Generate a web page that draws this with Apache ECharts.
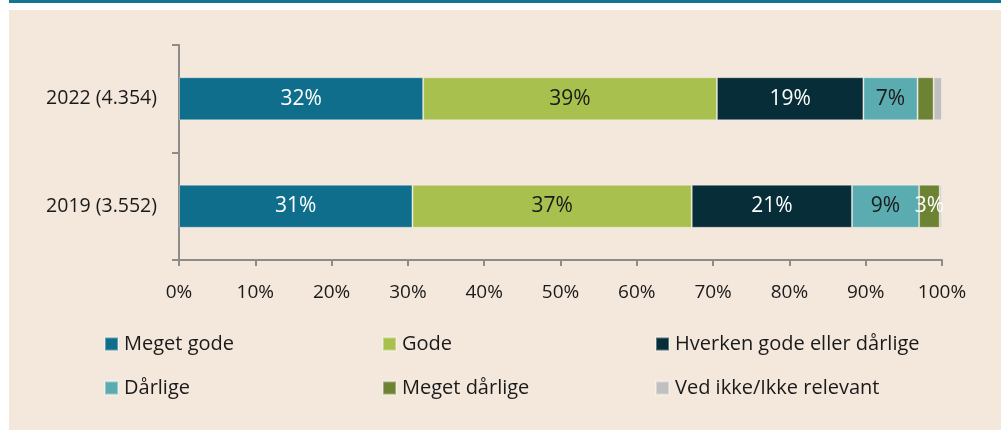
<!DOCTYPE html>
<html>
<head>
<meta charset="utf-8">
<script src="https://cdn.jsdelivr.net/npm/echarts@6/dist/echarts.min.js"></script>
<style>
  html, body { margin: 0; padding: 0; background: #ffffff; }
  #chart { width: 1001px; height: 430px; }
</style>
</head>
<body>
<div id="chart"></div>
<script>
// categories (bottom to top)
var categories = ['2019 (3.552)', '2022 (4.354)'];
var seriesNames = ['Meget gode', 'Gode', 'Hverken gode eller dårlige', 'Dårlige', 'Meget dårlige', 'Ved ikke/Ikke relevant'];
// shares in percent, same order as categories
var megetGode = [30.6, 32.0];
var gode = [36.6, 38.5];
var hverken = [21.0, 19.2];
var darlige = [8.8, 7.1];
var megetDarlige = [2.7, 2.1];
var vedIkke = [0.3, 1.1];
var xTicks = [0, 10, 20, 30, 40, 50, 60, 70, 80, 90, 100];

var colors = ['#0f6e8b', '#a8c04d', '#062d38', '#5aacb1', '#6d8334', '#c0c0c0'];
var labelColors = ['#ffffff', '#1a1a1a', '#ffffff', '#1a1a1a', '#ffffff', '#1a1a1a'];
var values = [megetGode, gode, hverken, darlige, megetDarlige, vedIkke];
var FONT = '"Open Sans", "Noto Sans", sans-serif';

var myChart = echarts.init(document.getElementById('chart'));

var series = seriesNames.map(function (name, i) {
  return {
    name: name,
    type: 'bar',
    stack: 'total',
    barWidth: 43,
    itemStyle: {
      color: colors[i],
      borderColor: 'rgba(255,255,255,0.35)',
      borderWidth: 1
    },
    label: {
      show: true,
      position: 'inside',
      color: labelColors[i],
      fontFamily: FONT,
      fontSize: 21,
      formatter: function (p) {
        return p.value >= 2.5 ? Math.round(p.value) + '%' : '';
      }
    },
    emphasis: { disabled: true },
    data: values[i]
  };
});

// legend: 3 columns x 2 rows, one legend per item so columns line up
var legendPos = [
  [99, 329], [377, 329], [650, 329],
  [99, 373], [377, 373], [650, 373]
];
var legends = seriesNames.map(function (name, i) {
  return {
    data: [name],
    left: legendPos[i][0],
    top: legendPos[i][1],
    itemWidth: 13,
    itemHeight: 13,
    icon: 'rect',
    selectedMode: false,
    textStyle: { fontFamily: FONT, fontSize: 20, color: '#1a1a1a', padding: [0, 0, 0, 1] }
  };
});

var option = {
  animation: false,
  backgroundColor: 'transparent',
  graphic: [
    { type: 'rect', silent: true, z: -10, shape: { x: 9, y: 10, width: 992, height: 420 }, style: { fill: '#f4e8dc' } },
    { type: 'rect', silent: true, z: -10, shape: { x: 9, y: 0, width: 992, height: 3 }, style: { fill: '#13758f' } }
  ],
  legend: legends,
  grid: { left: 179, right: 59, top: 45, bottom: 170, containLabel: false },
  xAxis: {
    type: 'value',
    min: xTicks[0],
    max: xTicks[xTicks.length - 1],
    interval: 10,
    axisLine: { show: true, lineStyle: { color: '#8c8c8c', width: 2 } },
    axisTick: { show: true, length: 6, lineStyle: { color: '#8c8c8c', width: 2 } },
    splitLine: { show: false },
    axisLabel: { fontFamily: FONT, fontSize: 19, color: '#1a1a1a', margin: 23, formatter: '{value}%' }
  },
  yAxis: {
    type: 'category',
    data: categories,
    axisLine: { show: true, lineStyle: { color: '#8c8c8c', width: 2 } },
    axisTick: { show: true, length: 7, lineStyle: { color: '#8c8c8c', width: 2 } },
    axisLabel: { fontFamily: FONT, fontSize: 19.5, color: '#1a1a1a', margin: 22 }
  },
  series: series
};

option && myChart.setOption(option);
</script>
</body>
</html>
